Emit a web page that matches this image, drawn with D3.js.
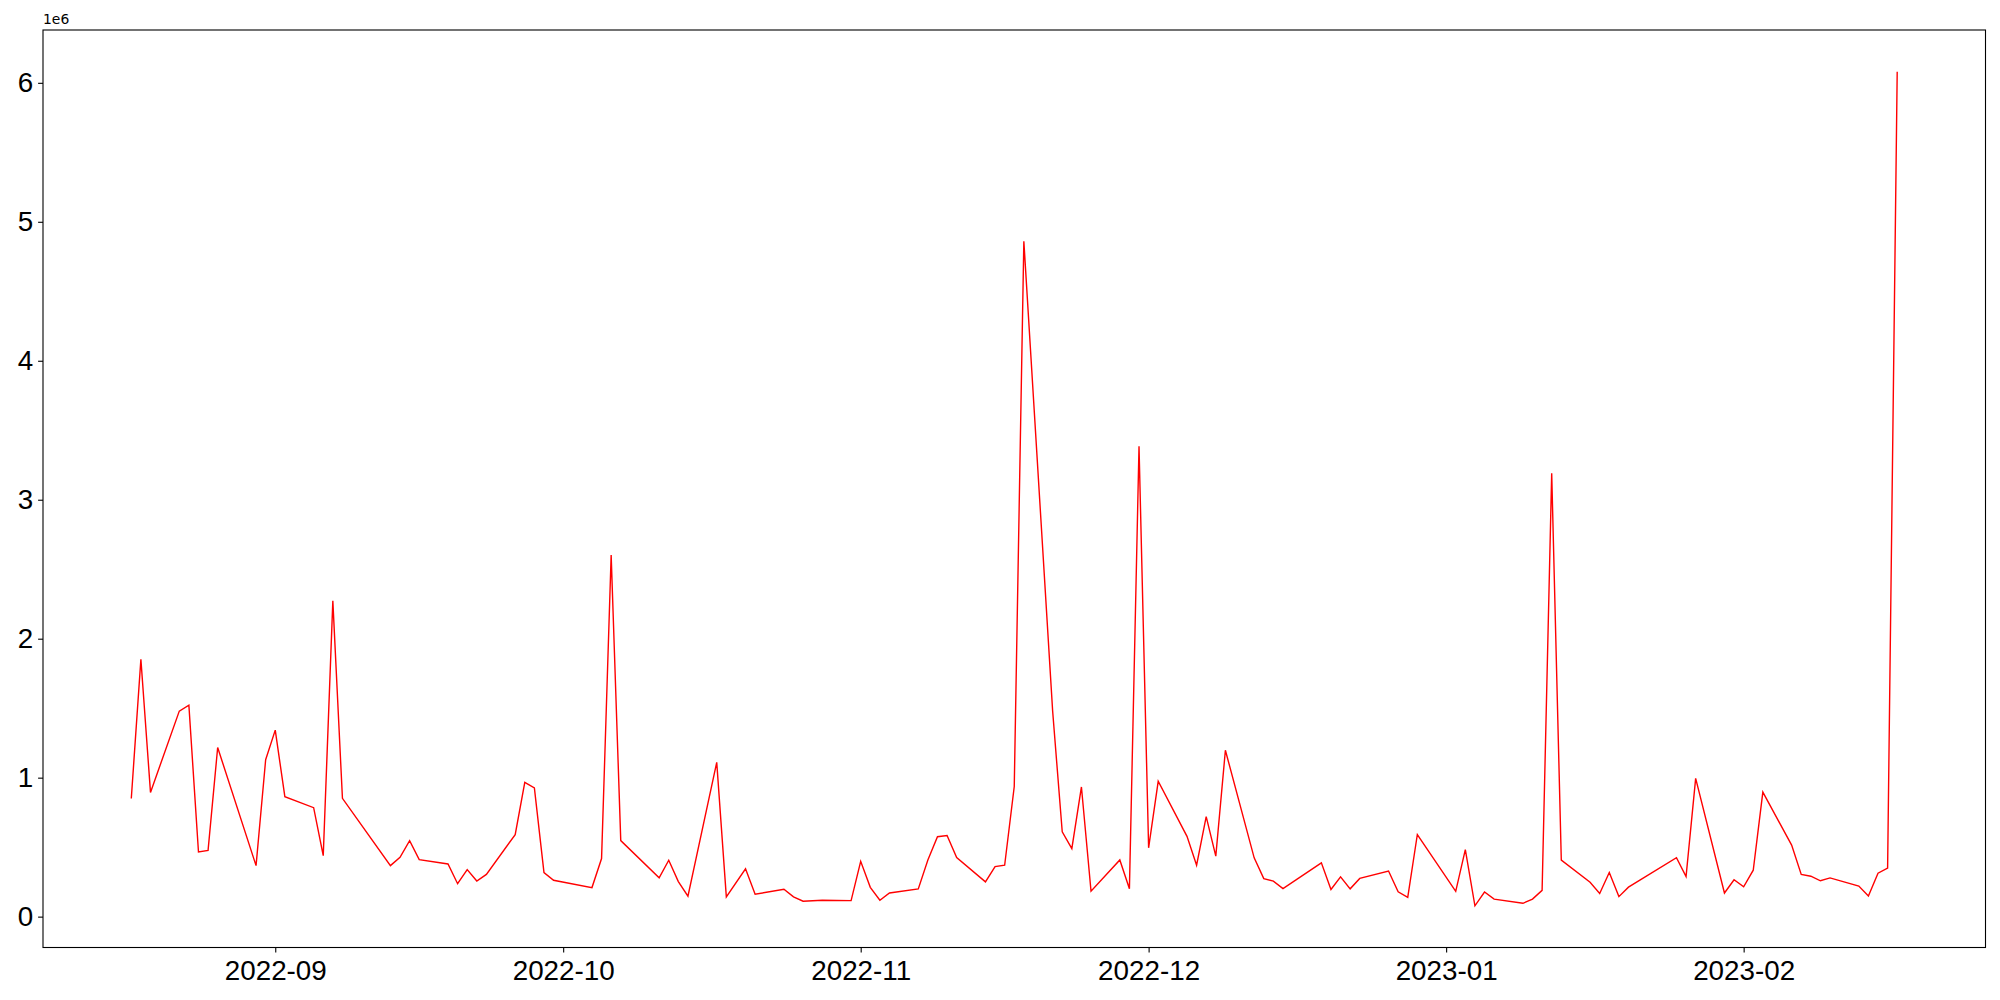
<!DOCTYPE html>
<html>
<head>
<meta charset="utf-8">
<script src="https://cdn.jsdelivr.net/npm/d3@7"></script>
<style>
  body { margin: 0; background: #fff; }
  svg { display: block; font-family: "DejaVu Sans", sans-serif; }
  .axis path, .axis line { stroke: #000; stroke-width: 1.1; }
  .axis text { font-size: 27.8px; fill: #000; }
</style>
</head>
<body>
<div id="chart"></div>
<script>
// dates (business days) and values
var dates = [
  "2022-08-17","2022-08-18","2022-08-19","2022-08-22","2022-08-23","2022-08-24","2022-08-25","2022-08-26",
  "2022-08-30","2022-08-31","2022-09-01","2022-09-02","2022-09-05","2022-09-06","2022-09-07","2022-09-08",
  "2022-09-13","2022-09-14","2022-09-15","2022-09-16","2022-09-19","2022-09-20","2022-09-21","2022-09-22",
  "2022-09-23","2022-09-26","2022-09-27","2022-09-28","2022-09-29","2022-09-30","2022-10-04","2022-10-05",
  "2022-10-06","2022-10-07","2022-10-11","2022-10-12","2022-10-13","2022-10-14","2022-10-17","2022-10-18",
  "2022-10-20","2022-10-21","2022-10-24","2022-10-25","2022-10-26","2022-10-28","2022-10-31","2022-11-01",
  "2022-11-02","2022-11-03","2022-11-04","2022-11-07","2022-11-08","2022-11-09","2022-11-10","2022-11-11",
  "2022-11-14","2022-11-15","2022-11-16","2022-11-17","2022-11-18","2022-11-21","2022-11-22","2022-11-23",
  "2022-11-24","2022-11-25","2022-11-28","2022-11-29","2022-11-30","2022-12-01","2022-12-02","2022-12-05",
  "2022-12-06","2022-12-07","2022-12-08","2022-12-09","2022-12-12","2022-12-13","2022-12-14","2022-12-15",
  "2022-12-19","2022-12-20","2022-12-21","2022-12-22","2022-12-23","2022-12-26","2022-12-27","2022-12-28",
  "2022-12-29","2023-01-02","2023-01-03","2023-01-04","2023-01-05","2023-01-06","2023-01-09","2023-01-10",
  "2023-01-11","2023-01-12","2023-01-13","2023-01-16","2023-01-17","2023-01-18","2023-01-19","2023-01-20",
  "2023-01-25","2023-01-26","2023-01-27","2023-01-30","2023-01-31","2023-02-01","2023-02-02","2023-02-03",
  "2023-02-06","2023-02-07","2023-02-08","2023-02-09","2023-02-10","2023-02-13","2023-02-14","2023-02-15",
  "2023-02-16","2023-02-17"
];
var values = [
  850000,1852000,894000,1479000,1522000,465000,477000,1217000,
  367000,1129000,1342000,863000,784000,439000,2272000,851000,
  367000,427000,546000,410000,379000,237000,338000,256000,
  304000,590000,966000,927000,317000,262000,209000,418000,
  2603000,547000,279000,406000,252000,147000,1110000,142000,
  344000,161000,197000,142000,111000,118000,115000,398000,
  211000,118000,170000,199000,408000,575000,584000,425000,
  250000,360000,370000,936000,4860000,1480000,610000,489000,
  933000,183000,408000,200000,3384000,495000,974000,578000,
  370000,720000,435000,1197000,423000,274000,255000,202000,
  387000,195000,286000,200000,275000,328000,179000,139000,
  591000,182000,482000,78000,177000,126000,96000,126000,
  189000,3190000,407000,247000,167000,318000,144000,212000,
  424000,288000,995000,170000,265000,215000,334000,896000,
  515000,304000,291000,258000,279000,220000,148000,313000,
  350000,6080000
];
var yTicks = [0, 1000000, 2000000, 3000000, 4000000, 5000000, 6000000];

var width = 2000, height = 1000;
var margin = { top: 30, right: 14.5, bottom: 52.5, left: 43 };
var w = width - margin.left - margin.right;
var h = height - margin.top - margin.bottom;

var parse = d3.utcParse("%Y-%m-%d");
var data = dates.map(function(d, i) {
  return { date: parse(d), value: values[i] };
});

// matplotlib-style 5% margins
var xExt = d3.extent(data, function(d) { return d.date; });
var xPad = (xExt[1] - xExt[0]) * 0.05;
var x = d3.scaleUtc()
  .domain([new Date(+xExt[0] - xPad), new Date(+xExt[1] + xPad)])
  .range([0, w]);

var yExt = d3.extent(values);
var yPad = (yExt[1] - yExt[0]) * 0.05;
var y = d3.scaleLinear()
  .domain([yExt[0] - yPad, yExt[1] + yPad])
  .range([h, 0]);

var svg = d3.select("#chart").append("svg")
  .attr("width", width)
  .attr("height", height);

var g = svg.append("g")
  .attr("transform", "translate(" + margin.left + "," + margin.top + ")");

var line = d3.line()
  .x(function(d) { return x(d.date); })
  .y(function(d) { return y(d.value); });

g.append("path")
  .datum(data)
  .attr("fill", "none")
  .attr("stroke", "#ff0000")
  .attr("stroke-width", 1.4)
  .attr("stroke-linejoin", "miter")
  .attr("d", line);

var xAxis = d3.axisBottom(x)
  .ticks(d3.utcMonth.every(1))
  .tickFormat(d3.utcFormat("%Y-%m"))
  .tickSize(4.9)
  .tickPadding(4.9);

g.append("g")
  .attr("class", "axis")
  .attr("transform", "translate(0," + h + ")")
  .call(xAxis)
  .call(function(s) { s.select(".domain").remove(); })
  .selectAll("text")
  .attr("dy", "0.8em");

var yAxis = d3.axisLeft(y)
  .tickValues(yTicks)
  .tickFormat(function(d) { return d / 1000000; })
  .tickSize(4.9)
  .tickPadding(4.9);

g.append("g")
  .attr("class", "axis")
  .call(yAxis)
  .call(function(s) { s.select(".domain").remove(); });

// frame
g.append("rect")
  .attr("width", w)
  .attr("height", h)
  .attr("fill", "none")
  .attr("stroke", "#000")
  .attr("stroke-width", 1.1);

// offset text
svg.append("text")
  .attr("x", margin.left)
  .attr("y", margin.top - 6)
  .style("font-size", "13.9px")
  .text("1e6");
</script>
</body>
</html>
